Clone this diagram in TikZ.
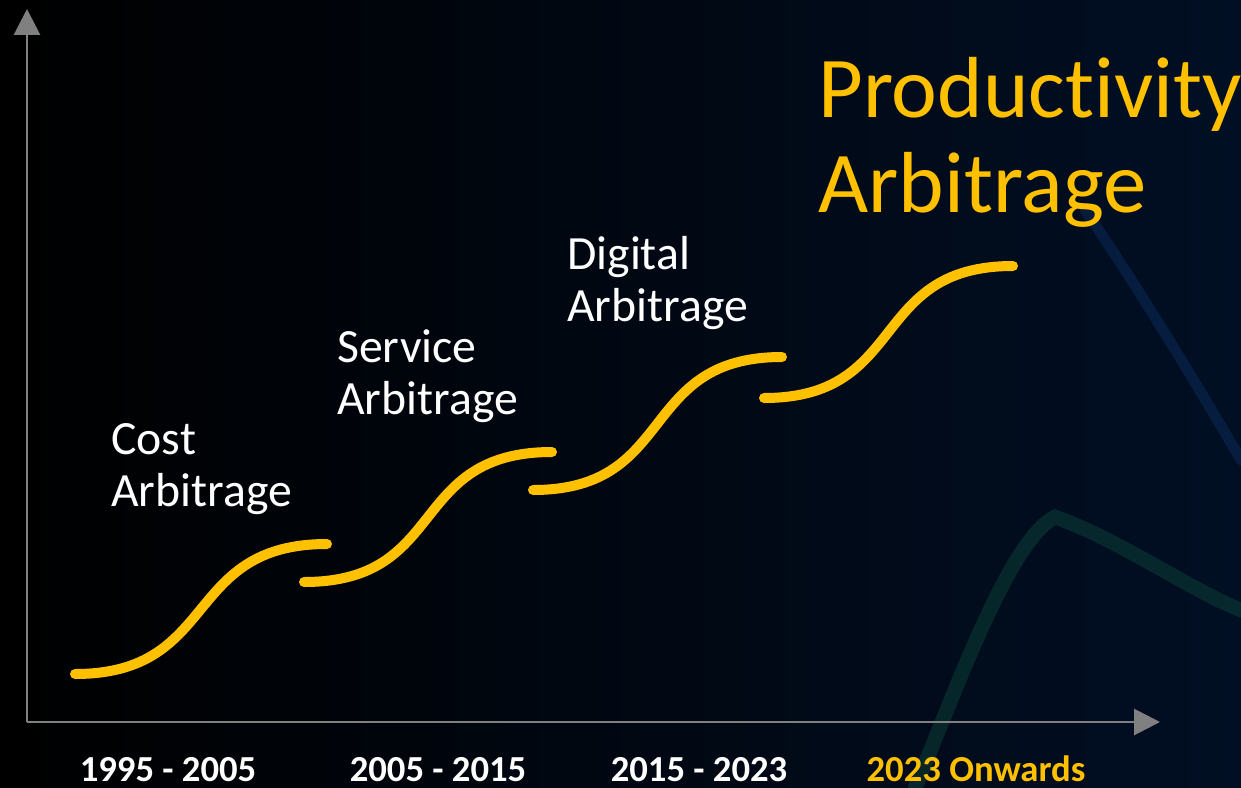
\documentclass[tikz,border=0pt]{standalone}
\usepackage{fontspec}
\setmainfont{Carlito}[Ligatures=NoCommon]
\usetikzlibrary{arrows.meta}
\definecolor{stepyellow}{RGB}{255,192,0}
\definecolor{axisgray}{RGB}{128,128,128}
\definecolor{bgnavy}{RGB}{1,15,36}
\definecolor{glowblue}{RGB}{14,48,100}
\definecolor{glowgreen}{RGB}{12,66,56}

\begin{document}
\begin{tikzpicture}[x=0.75pt,y=0.75pt,yscale=-1,xscale=1,
  stepcurve/.style={draw=stepyellow, line width=7.5pt, line cap=round},
  axisline/.style={draw=axisgray, line width=2.2pt, -{Triangle[length=19.5pt,width=19.5pt]}},
  phase/.style={text=white, font=\fontsize{35.8}{39}\selectfont, align=left, anchor=base west, inner sep=0pt},
  period/.style={text=white, font=\fontsize{27.5}{30}\bfseries\selectfont, anchor=base, inner sep=0pt}]
\useasboundingbox (0,0) rectangle (1241,788);

%Shape: Background
\shade [left color=black, right color=bgnavy] (0,0) rectangle (1241,788);
\draw [glowblue, line width=8pt, line cap=round, opacity=0.45] (1085,210) .. controls (1140,290) and (1200,390) .. (1241,460);
\draw [glowgreen, line width=11pt, line cap=round, opacity=0.5] (915,788) .. controls (960,680) and (1010,540) .. (1055,517) .. controls (1120,540) and (1190,590) .. (1241,610);

%Shape: Axes
\coordinate (origin) at (27,722);
\coordinate (ytop) at (27,9);
\coordinate (xend) at (1160,722);
\draw [axisline] (origin) -- (ytop);
\draw [axisline] (origin) -- (xend);

%Straight Lines: step ends
\coordinate (s1a) at (75,674);
\coordinate (s1b) at (327,544);
\coordinate (s2a) at (304,582);
\coordinate (s2b) at (552,452);
\coordinate (s3a) at (533,490);
\coordinate (s3b) at (782,357);
\coordinate (s4a) at (764,398);
\coordinate (s4b) at (1013,266);

%Curves: steps
\draw [stepcurve] (s1a) .. controls +(145,0) and +(-145,0) .. (s1b);
\draw [stepcurve] (s2a) .. controls +(145,0) and +(-145,0) .. (s2b);
\draw [stepcurve] (s3a) .. controls +(145,0) and +(-145,0) .. (s3b);
\draw [stepcurve] (s4a) .. controls +(145,0) and +(-145,0) .. (s4b);

% Text Node
\draw (111,506) node (cost) [phase] {Cost\\Arbitrage};
% Text Node
\draw (337,414) node (service) [phase] {Service\\Arbitrage};
% Text Node
\draw (567,321) node (digital) [phase] {Digital\\Arbitrage};
% Text Node
\draw (818,212) node (productivity) [phase, text=stepyellow, font=\fontsize{65}{70.5}\selectfont] {Productivity\\Arbitrage};

% Text Node
\draw (168,781) node (p1) [period] {1995 - 2005};
% Text Node
\draw (438,781) node (p2) [period] {2005 - 2015};
% Text Node
\draw (699,781) node (p3) [period] {2015 - 2023};
% Text Node
\draw (976,781) node (p4) [period, text=stepyellow] {2023 Onwards};

\end{tikzpicture}
\end{document}
